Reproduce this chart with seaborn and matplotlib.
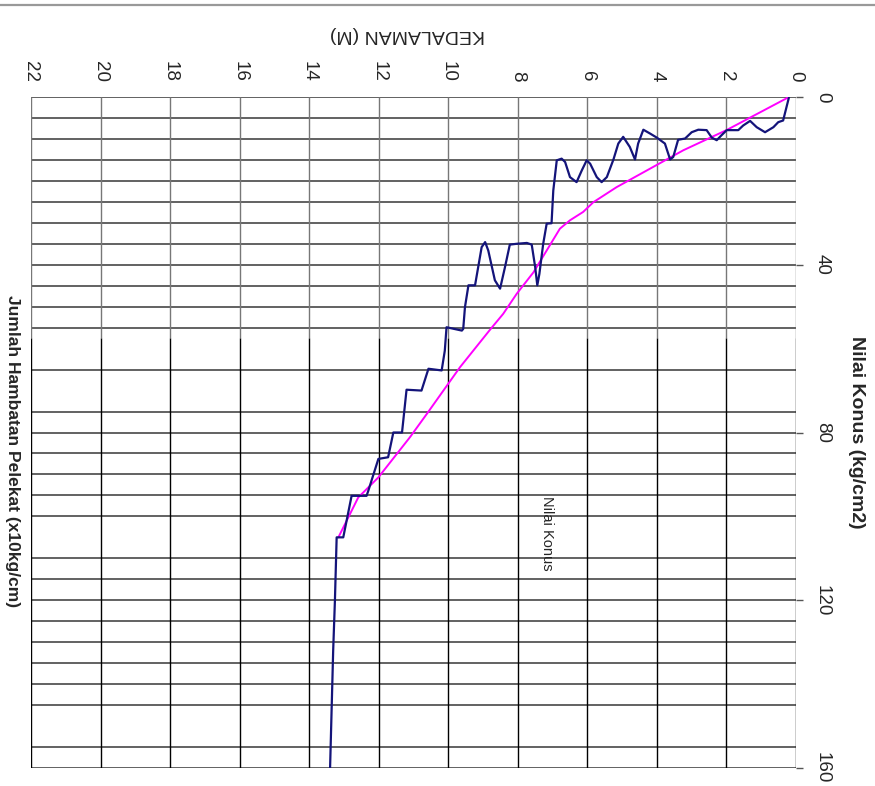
import numpy as np
import pandas as pd
import matplotlib
matplotlib.use("Agg")
import matplotlib.pyplot as plt
import seaborn as sns
from matplotlib.lines import Line2D

# depth (m) vs cone value (kg/cm2)
konus_depth = [0.2, 0.37, 0.51, 0.65, 0.89, 1.13, 1.32, 1.52, 1.66, 1.99, 2.14, 2.28, 2.42,
               2.57, 2.81, 3.0, 3.19, 3.39, 3.53, 3.62, 3.77, 4.0, 4.2, 4.39, 4.54, 4.63,
               4.78, 4.97, 5.11, 5.25, 5.44, 5.59, 5.73, 5.92, 6.02, 6.16, 6.31, 6.5, 6.64,
               6.74, 6.88, 6.98, 7.03, 7.17, 7.27, 7.38, 7.44, 7.5, 7.6, 7.74, 8.03, 8.23,
               8.37, 8.51, 8.66, 8.85, 8.94, 9.04, 9.23, 9.42, 9.52, 9.57, 9.61, 10.05,
               10.1, 10.19, 10.57, 10.77, 11.2, 11.33, 11.58, 11.73, 12.01, 12.3, 12.35,
               12.78, 13.02, 13.21, 13.26, 13.31, 13.4]
konus_value = [0, 5.6, 6.0, 7.2, 8.4, 7.2, 5.7, 6.8, 7.9, 7.9, 9.1, 10.3, 9.7,
               7.9, 7.8, 8.4, 9.9, 10.2, 14.3, 14.9, 11.1, 9.7, 8.7, 7.8, 11.1, 14.9,
               11.9, 9.5, 11.1, 14.9, 19.1, 20.3, 19.1, 15.9, 15.1, 17.5, 20.3, 19.1, 15.5,
               14.7, 15.1, 22.3, 30.1, 30.2, 35.0, 42.2, 44.9, 40.6, 35.2, 34.8, 35.0, 35.2,
               40.6, 45.7, 43.7, 36.6, 34.6, 35.8, 44.9, 44.9, 50.1, 55.3, 55.7, 54.9,
               60.5, 65.2, 64.8, 70.0, 69.8, 80.0, 80.0, 85.9, 86.3, 93.9, 95.1,
               95.1, 105.0, 105.0, 120.1, 132.0, 160.3]

# cumulative friction (x10 kg/cm)
jhp_depth = [0.2, 2.0, 3.24, 4.2, 5.16, 5.83, 6.12, 6.5, 6.79, 7.17, 7.55, 8.03, 8.42,
             8.8, 9.66, 10.62, 11.1, 12.01, 12.59, 13.16]
jhp_value = [0, 7.9, 12.7, 17.1, 21.5, 25.1, 27.4, 29.4, 31.4, 36.6, 41.8, 46.9, 51.7,
             55.5, 64.4, 75.6, 81.1, 90.7, 95.5, 105.0]

depth_ticks = [0, 2, 4, 6, 8, 10, 12, 14, 16, 18, 20, 22]
konus_ticks = [0, 40, 80, 120, 160]
grid_upper = [0, 5, 10, 15, 20, 25, 30, 35, 40, 45, 50, 55]
grid_lower = [65, 75, 80, 85, 90, 95, 100, 110, 115, 120, 125, 130, 135, 140, 145, 155, 160]

sns.set_style("white")
plt.rcParams["font.family"] = ["Liberation Sans", "DejaVu Sans"]

fig = plt.figure(figsize=(8.75, 7.86), dpi=100)
ax = fig.add_axes([31 / 875, 1 - 768 / 786, (796 - 31) / 875, (768 - 97) / 786])

# grid
ax.hlines(grid_upper, 0, 22, color="#555555", lw=1.3, zorder=1)
ax.hlines(grid_lower, 0, 22, color="#555555", lw=1.3, zorder=1)
ax.vlines(depth_ticks, 0, 57.5, color="#777777", lw=1.0, zorder=1)
ax.vlines(depth_ticks, 57.5, 160, color="black", lw=1.0, zorder=1)

df_k = pd.DataFrame({"depth": konus_depth, "konus": konus_value})
df_j = pd.DataFrame({"depth": jhp_depth, "jhp": jhp_value})
sns.lineplot(data=df_j, x="depth", y="jhp", sort=False, estimator=None,
             color="#ff00ff", lw=1.4, ax=ax, zorder=3)
sns.lineplot(data=df_k, x="depth", y="konus", sort=False, estimator=None,
             color="#14147a", lw=1.6, ax=ax, zorder=4)

ax.set_xlim(22, 0)
ax.set_ylim(160, 0)
for s in ax.spines.values():
    s.set_visible(False)

ax.set_xticks(depth_ticks)
ax.set_xticklabels([str(t) for t in depth_ticks], rotation=-90, fontsize=13.5)
ax.xaxis.tick_top()
ax.tick_params(axis="x", length=0, pad=11)

ax.set_yticks(konus_ticks)
ax.set_yticklabels([str(t) for t in konus_ticks], rotation=-90, fontsize=13.5, va="center")
ax.yaxis.tick_right()
ax.tick_params(axis="y", length=5, width=1, color="#555555", pad=8)
ax.set_xlabel("")
ax.set_ylabel("")

ax.text(7.15, 104, "Nilai Konus", rotation=-90, fontsize=10.5, ha="center", va="center")

fig.text(407 / 875, 1 - 35 / 786, "KEDALAMAN (M)", rotation=180, fontsize=14,
         ha="center", va="center")
fig.text(856 / 875, 1 - 432 / 786, "Nilai Konus (kg/cm2)", rotation=-90, fontsize=14,
         fontweight="bold", ha="center", va="center")
fig.text(12 / 875, 1 - 451 / 786, "Jumlah Hambatan Pelekat (x10kg/cm)", rotation=-90,
         fontsize=12.5, fontweight="bold", ha="center", va="center")

# page edge at the top
fig.add_artist(Line2D([0, 1], [1 - 5 / 786, 1 - 5 / 786], color="#999999", lw=1.6))

fig.savefig("out.png", dpi=100)
